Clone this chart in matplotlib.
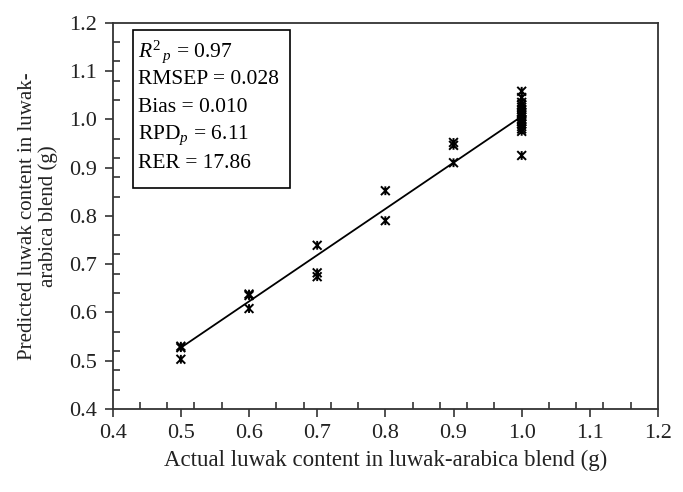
import matplotlib
matplotlib.use("Agg")
import matplotlib.pyplot as plt
from matplotlib.path import Path
from matplotlib.patches import Rectangle
import numpy as np

plt.rcParams['font.family'] = ['Liberation Serif', 'DejaVu Serif']
plt.rcParams['mathtext.fontset'] = 'custom'
plt.rcParams['mathtext.rm'] = 'Liberation Serif'
plt.rcParams['mathtext.it'] = 'Liberation Serif:italic'

# Data
actual = [0.5, 0.5, 0.5,
          0.6, 0.6, 0.6,
          0.7, 0.7, 0.7,
          0.8, 0.8,
          0.9, 0.9, 0.9,
          1.0, 1.0, 1.0, 1.0, 1.0, 1.0, 1.0, 1.0, 1.0, 1.0, 1.0, 1.0, 1.0, 1.0, 1.0, 1.0, 1.0, 1.0]
predicted = [0.527, 0.530, 0.503,
             0.635, 0.638, 0.608,
             0.739, 0.674, 0.682,
             0.852, 0.790,
             0.946, 0.952, 0.910,
             1.058, 1.045, 1.035, 1.030, 1.025, 1.020, 1.015, 1.012, 1.008, 1.005,
             1.000, 0.998, 0.995, 0.990, 0.985, 0.980, 0.975, 0.925]
fit_x = [0.5, 1.0]
fit_y = [0.527, 1.006]
stats_lines = [r"$R^2{}_{\,p}$ = 0.97", "RMSEP = 0.028", "Bias = 0.010",
               r"RPD$_{p}$ = 6.11", "RER = 17.86"]
xlabel = "Actual luwak content in luwak-arabica blend (g)"
ylabel = "Predicted luwak content in luwak-\narabica blend (g)"

W, H = 683, 492
fig = plt.figure(figsize=(W/100, H/100), dpi=100)
L, R, T, B = 112.7, 658, 22.7, 409
ax = fig.add_axes([L/W, 1 - B/H, (R-L)/W, (B-T)/H])

star = Path([(-1, -1), (1, 1), (-1, 1), (1, -1), (0, -1), (0, 1)],
            [Path.MOVETO, Path.LINETO, Path.MOVETO, Path.LINETO, Path.MOVETO, Path.LINETO])
ax.plot(fit_x, fit_y, color='black', lw=1.3, zorder=2)
ax.scatter(actual, predicted, marker=star, s=40, facecolor='none', edgecolor='black',
           linewidths=1.4, zorder=3)

ax.set_xlim(0.4, 1.2)
ax.set_ylim(0.4, 1.2)
ax.set_xticks(np.arange(0.4, 1.2001, 0.1))
ax.set_yticks(np.arange(0.4, 1.2001, 0.1))
ax.set_xticks(np.arange(0.44, 1.2, 0.04), minor=True)
ax.set_yticks(np.arange(0.44, 1.2, 0.04), minor=True)
ax.xaxis.set_major_formatter(matplotlib.ticker.FormatStrFormatter('%.1f'))
ax.yaxis.set_major_formatter(matplotlib.ticker.FormatStrFormatter('%.1f'))
ax.tick_params(which='major', direction='out', length=6, width=1.2, color='#333333',
               labelsize=16, pad=5, labelcolor='#222222')
ax.tick_params(which='minor', direction='in', length=5, width=1.2, color='#333333')
for s in ax.spines.values():
    s.set_linewidth(1.3)
    s.set_color('#333333')

ax.set_xlabel(xlabel, fontsize=16.5, color='#222222', labelpad=5)
ax.set_ylabel(ylabel, fontsize=15, color='#222222', labelpad=8, linespacing=1.1)

# stats box
x0 = (132.7 - L) / (R - L)
x1 = (290 - L) / (R - L)
y0 = (B - 188) / (B - T)
y1 = (B - 30) / (B - T)
ax.add_patch(Rectangle((x0, y0), x1 - x0, y1 - y0, transform=ax.transAxes,
                       facecolor='white', edgecolor='black', lw=1.2, zorder=4))
centers = [51.7, 79, 107, 135.5, 164]
for txt, yc in zip(stats_lines, centers):
    ax.text((138 - L) / (R - L), (B - yc) / (B - T), txt, transform=ax.transAxes,
            fontsize=15.5, va='center', ha='left', color='black', zorder=5)

fig.savefig("out.png", dpi=100)
